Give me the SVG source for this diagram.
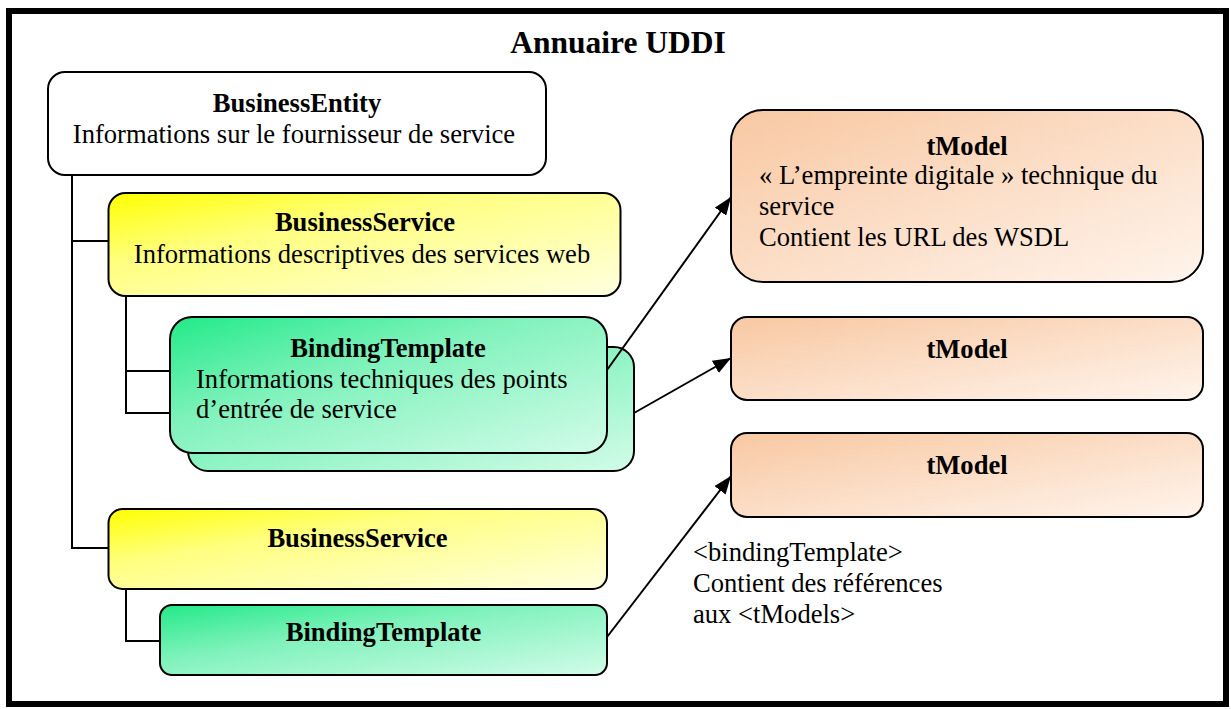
<svg xmlns="http://www.w3.org/2000/svg" width="1231" height="709" viewBox="0 0 1231 709">
<style>
text{font-family:"Liberation Serif","Times New Roman",serif;font-size:26.6px;fill:#000}
.b{font-weight:bold}
.c{text-anchor:middle}
.box{stroke:#000;stroke-width:2}
.conn{fill:none;stroke:#000;stroke-width:2}
</style>
<defs>
<linearGradient id="gy" x1="0" y1="0" x2="1" y2="1">
<stop offset="0" stop-color="#ffff00"/>
<stop offset="0.35" stop-color="#ffff80"/>
<stop offset="1" stop-color="#ffffe0"/>
</linearGradient>
<linearGradient id="gg" x1="0" y1="0" x2="1" y2="1">
<stop offset="0" stop-color="#22ea88"/>
<stop offset="0.4" stop-color="#80f2bc"/>
<stop offset="1" stop-color="#d2fce8"/>
</linearGradient>
<linearGradient id="go" x1="0" y1="0" x2="1" y2="1">
<stop offset="0" stop-color="#f8c8a2"/>
<stop offset="1" stop-color="#fff4ec"/>
</linearGradient>
<marker id="ah" markerUnits="userSpaceOnUse" markerWidth="20" markerHeight="14" refX="18" refY="7" orient="auto">
<path d="M0,0 L18,7 L0,14 Z" fill="#000"/>
</marker>
</defs>
<rect x="0" y="0" width="1231" height="709" fill="#fff"/>
<rect id="frame" x="9" y="11" width="1217" height="693" fill="none" stroke="#000" stroke-width="6"/>
<text class="b c" x="618" y="53" style="font-size:31.5px">Annuaire UDDI</text>

<g id="businessEntity">
<rect class="box" x="48" y="72" width="498" height="103" rx="17" fill="#fff"/>
<text class="b c" x="297" y="112">BusinessEntity</text>
<text class="c" x="294" y="143">Informations sur le fournisseur de service</text>
</g>

<g id="businessService1">
<rect class="box" x="108.5" y="193" width="512" height="103" rx="17" fill="url(#gy)"/>
<text class="b c" x="365" y="231">BusinessService</text>
<text class="c" x="362" y="263">Informations descriptives des services web</text>
</g>

<g id="bindingTemplate1">
<rect class="box" x="188" y="347" width="446" height="124" rx="20" fill="url(#gg)"/>
<rect class="box" x="170" y="317" width="437" height="136" rx="22" fill="url(#gg)"/>
<text class="b c" x="388" y="357">BindingTemplate</text>
<text x="196" y="388">Informations techniques des points</text>
<text x="196" y="418">d’entrée de service</text>
</g>

<g id="businessService2">
<rect class="box" x="108.5" y="509" width="498.5" height="80" rx="14" fill="url(#gy)"/>
<text class="b c" x="357.5" y="547">BusinessService</text>
</g>

<g id="bindingTemplate2">
<rect class="box" x="160" y="605" width="447" height="70" rx="12" fill="url(#gg)"/>
<text class="b c" x="383.5" y="641">BindingTemplate</text>
</g>

<g id="tModel1">
<rect class="box" x="731" y="110" width="472" height="172" rx="32" fill="url(#go)"/>
<text class="b c" x="967" y="155">tModel</text>
<text x="759" y="184">« L’empreinte digitale » technique du</text>
<text x="759" y="215">service</text>
<text x="759" y="246">Contient les URL des WSDL</text>
</g>

<g id="tModel2">
<rect class="box" x="731" y="317" width="472" height="83" rx="16" fill="url(#go)"/>
<text class="b c" x="967" y="358">tModel</text>
</g>

<g id="tModel3">
<rect class="box" x="731" y="433" width="472" height="84" rx="16" fill="url(#go)"/>
<text class="b c" x="967" y="474">tModel</text>
</g>

<g id="note">
<text x="693" y="561">&lt;bindingTemplate&gt;</text>
<text x="693" y="592">Contient des références</text>
<text x="693" y="623">aux &lt;tModels&gt;</text>
</g>

<g id="connectors">
<path class="conn" d="M72,175 V548 H108 M72,241 H108"/>
<path class="conn" d="M126,296 V413 H170 M126,371 H170"/>
<path class="conn" d="M126,589 V641 H160"/>
<path class="conn" d="M607,370 L731,197" marker-end="url(#ah)"/>
<path class="conn" d="M634,413 L731,358" marker-end="url(#ah)"/>
<path class="conn" d="M607,637 L731,476" marker-end="url(#ah)"/>
</g>
</svg>
